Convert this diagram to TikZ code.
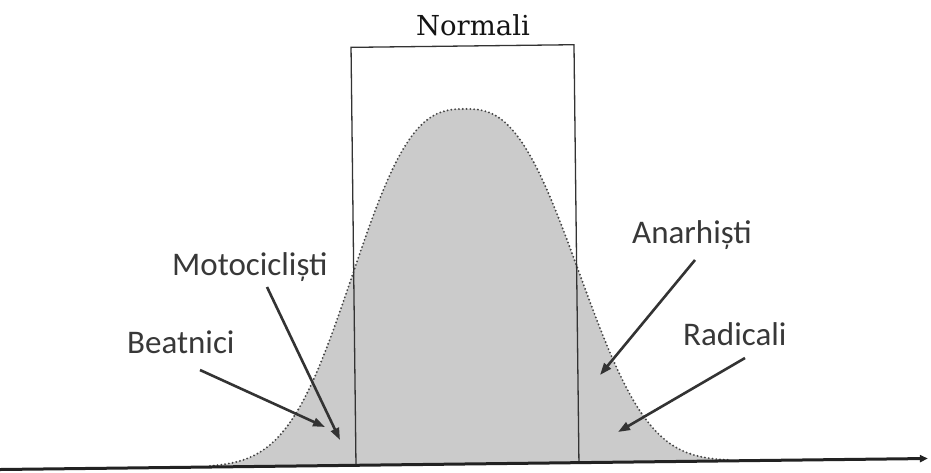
\documentclass[tikz,border=0pt]{standalone}
\usepackage{fontspec}
\setmainfont{Carlito}
\newfontfamily\slabfont{DejaVu Serif}
\usetikzlibrary{arrows.meta}
\definecolor{ink}{HTML}{333333}
\definecolor{txtink}{HTML}{383838}
\definecolor{axisink}{HTML}{222222}
\definecolor{dotink}{HTML}{454545}
\definecolor{bellfill}{HTML}{CBCBCB}
\begin{document}
\begin{tikzpicture}[x=1pt,y=-1pt,
  lbl/.style={font=\fontsize{33}{38}\selectfont, text=txtink, inner sep=0pt, anchor=base west},
  titlelbl/.style={font=\slabfont\fontsize{27.5}{32}\selectfont, text=black!92, inner sep=0pt, anchor=base},
  pointer/.style={draw=ink, line width=2.6pt, -{Triangle[length=12pt,width=8.5pt]}},
  bellline/.style={draw=dotink, line width=2.1pt, line cap=round, dash pattern=on 0pt off 3.8pt},
  frameline/.style={draw=ink, line width=1.3pt},
  axisline/.style={draw=axisink, line width=3pt, -{Triangle[length=8pt,width=7pt]}}]
\useasboundingbox (0,0) rectangle (931,472);
\fill[white] (0,0) rectangle (931,472);
\begin{scope}[rotate around={0.68:(467,464)}]
  \fill[bellfill] plot[domain=198:742,samples=273] (\x,{464-355*exp(-1*pow((abs(\x-468)+0.01)/135,2.7))}) -- cycle;
  \draw[bellline] plot[domain=210:730,samples=261] (\x,{464-355*exp(-1*pow((abs(\x-468)+0.01)/135,2.7))});
  \coordinate (rbl) at (356,464);
  \coordinate (rtl) at (356,46);
  \coordinate (rtr) at (579,46);
  \coordinate (rbr) at (579,464);
  \draw[frameline] (rbl) -- (rtl) -- (rtr) -- (rbr);
  \coordinate (axL) at (-2,464);
  \coordinate (axR) at (928,464);
  \draw[axisline] (axL) -- (axR);
\end{scope}
\node[titlelbl] (norm) at (473,35) {Normali};
\node[lbl] (beat) at (127,353) {Beatnici};
\node[lbl] (moto) at (172,275) {Motocicliști};
\node[lbl] (anar) at (632,243) {Anarhiști};
\node[lbl] (radi) at (683,345) {Radicali};
\coordinate (beatS) at (200,370);
\coordinate (beatT) at (325,427);
\coordinate (motoS) at (267,287);
\coordinate (motoT) at (340,440);
\coordinate (anarS) at (695,260);
\coordinate (anarT) at (600,375);
\coordinate (radiS) at (745,358);
\coordinate (radiT) at (618,432);
\draw[pointer] (beatS) -- (beatT);
\draw[pointer] (motoS) -- (motoT);
\draw[pointer] (anarS) -- (anarT);
\draw[pointer] (radiS) -- (radiT);
\end{tikzpicture}
\end{document}
